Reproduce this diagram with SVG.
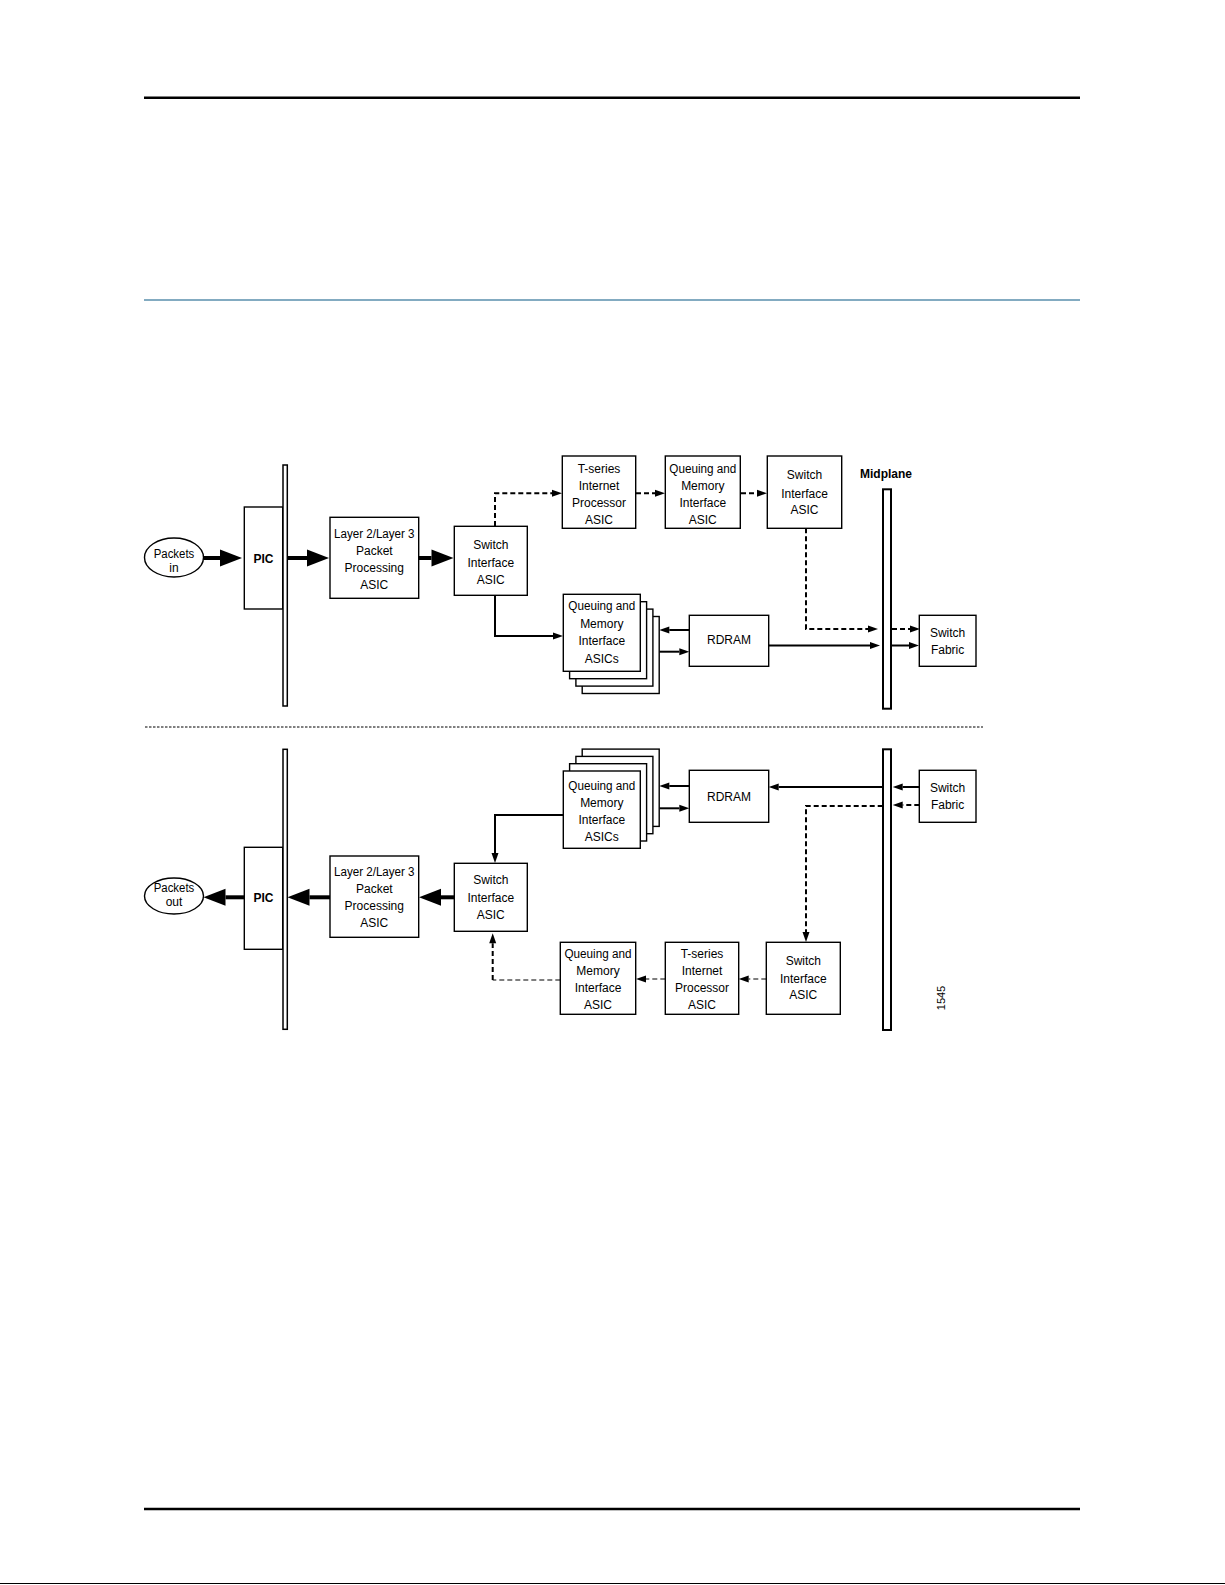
<svg xmlns="http://www.w3.org/2000/svg" width="1225" height="1585" viewBox="0 0 1225 1585">
<style>
text{font-family:"Liberation Sans",Arial,sans-serif;font-size:12px;fill:#000;text-anchor:middle}
.b{font-weight:bold}
.box{fill:#fff;stroke:#000;stroke-width:1.4}
.bar{fill:#fff;stroke:#000;stroke-width:1.5}
.mbar{fill:#fff;stroke:#000;stroke-width:2}
.thick{fill:none;stroke:#000;stroke-width:4}
.solid{fill:none;stroke:#000;stroke-width:2}
.dash{fill:none;stroke:#000;stroke-width:2;stroke-dasharray:5 3}
.tdash{fill:none;stroke:#000;stroke-width:1.2;stroke-dasharray:5 3}
</style>
<defs>
<marker id="big" markerUnits="userSpaceOnUse" markerWidth="22" markerHeight="17" refX="0" refY="8.5" orient="auto" overflow="visible"><path d="M0,0 L22,8.5 L0,17 z" fill="#000"/></marker>
<marker id="sm" markerUnits="userSpaceOnUse" markerWidth="10" markerHeight="7" refX="0" refY="3.5" orient="auto" overflow="visible"><path d="M0,0 L10,3.5 L0,7 z" fill="#000"/></marker>
</defs>
<rect width="1225" height="1585" fill="#fff"/>
<g id="page">
<line x1="144" y1="97.7" x2="1080" y2="97.7" stroke="#000" stroke-width="2.5"/>
<line x1="144" y1="300" x2="1080" y2="300" stroke="#5a8fad" stroke-width="1.3"/>
<line x1="144" y1="1509" x2="1080" y2="1509" stroke="#000" stroke-width="2.5"/>
<line x1="0" y1="1583.5" x2="1225" y2="1583.5" stroke="#000" stroke-width="1"/>
<line x1="145" y1="727" x2="983" y2="727" stroke="#000" stroke-width="1" stroke-dasharray="2.5 1.5"/>
</g>
<g id="connectors">
<line class="thick" x1="203.5" y1="558" x2="220" y2="558" marker-end="url(#big)"/>
<line class="thick" x1="287.5" y1="558" x2="307" y2="558" marker-end="url(#big)"/>
<line class="thick" x1="419" y1="558" x2="431.5" y2="558" marker-end="url(#big)"/>
<path class="dash" d="M495,526 V493.3 H552" marker-end="url(#sm)"/>
<line class="dash" x1="636" y1="493.3" x2="655" y2="493.3" marker-end="url(#sm)"/>
<line class="dash" x1="741" y1="493.3" x2="757" y2="493.3" marker-end="url(#sm)"/>
<path class="dash" d="M806,528.3 V629 H868" marker-end="url(#sm)"/>
<line class="dash" x1="892" y1="629" x2="910" y2="629" marker-end="url(#sm)"/>
<path class="solid" d="M495,595.3 V636 H553" marker-end="url(#sm)"/>
<line class="solid" x1="689.3" y1="630" x2="669.3" y2="630" marker-end="url(#sm)"/>
<line class="solid" x1="659.3" y1="651.7" x2="679.3" y2="651.7" marker-end="url(#sm)"/>
<line class="solid" x1="768.7" y1="645.5" x2="870" y2="645.5" marker-end="url(#sm)"/>
<line class="solid" x1="892" y1="645.5" x2="909" y2="645.5" marker-end="url(#sm)"/>
<line class="thick" x1="244.3" y1="897.3" x2="225.5" y2="897.3" marker-end="url(#big)"/>
<line class="thick" x1="330" y1="897.3" x2="309.5" y2="897.3" marker-end="url(#big)"/>
<line class="thick" x1="454.3" y1="897.3" x2="441" y2="897.3" marker-end="url(#big)"/>
<path class="solid" d="M563.3,815 H495 V853" marker-end="url(#sm)"/>
<line class="solid" x1="689.3" y1="786" x2="669.3" y2="786" marker-end="url(#sm)"/>
<line class="solid" x1="659.3" y1="808.3" x2="679.3" y2="808.3" marker-end="url(#sm)"/>
<line class="solid" x1="882.7" y1="787" x2="778.7" y2="787" marker-end="url(#sm)"/>
<line class="solid" x1="919.3" y1="787" x2="902.7" y2="787" marker-end="url(#sm)"/>
<line class="dash" x1="919.3" y1="805" x2="902.7" y2="805" marker-end="url(#sm)"/>
<path class="dash" d="M882.7,806 H806 V932" marker-end="url(#sm)"/>
<line class="tdash" x1="766.3" y1="979" x2="748.7" y2="979" marker-end="url(#sm)"/>
<line class="tdash" x1="665.3" y1="979" x2="646" y2="979" marker-end="url(#sm)"/>
<path class="tdash" d="M560.3,980 H492.7"/>
<path class="dash" d="M492.7,980 V943.3" marker-end="url(#sm)"/>
</g>
<g id="packets-in"><ellipse class="box" cx="174" cy="557.5" rx="29.5" ry="19.5"/><text x="174" y="558" textLength="40.5" lengthAdjust="spacingAndGlyphs">Packets</text><text x="174" y="572">in</text></g>
<g id="pic-in"><rect class="box" x="244.3" y="507" width="38.4" height="102"/><text class="b" x="263.5" y="562.5">PIC</text></g>
<g id="bar-in"><rect class="bar" x="283" y="465" width="4.3" height="241"/></g>
<g id="l23-in"><rect class="box" x="330" y="517.3" width="88.7" height="81"/><text x="374.3" y="537.5" textLength="80.5" lengthAdjust="spacingAndGlyphs">Layer 2/Layer 3</text><text x="374.3" y="554.5">Packet</text><text x="374.3" y="571.7">Processing</text><text x="374.3" y="589">ASIC</text></g>
<g id="sw-in"><rect class="box" x="454.3" y="526.3" width="73" height="69"/><text x="490.8" y="549.3">Switch</text><text x="490.8" y="566.5">Interface</text><text x="490.8" y="583.5">ASIC</text></g>
<g id="tseries-in"><rect class="box" x="562.3" y="456" width="73.4" height="72.3"/><text x="599" y="472.5">T-series</text><text x="599" y="490">Internet</text><text x="599" y="507.3">Processor</text><text x="599" y="524.3">ASIC</text></g>
<g id="qmi-in"><rect class="box" x="665.3" y="456" width="75" height="72.3"/><text x="702.8" y="472.5" textLength="67" lengthAdjust="spacingAndGlyphs">Queuing and</text><text x="702.8" y="490">Memory</text><text x="702.8" y="507.3">Interface</text><text x="702.8" y="524.3">ASIC</text></g>
<g id="sw2-in"><rect class="box" x="767.3" y="456" width="74.4" height="72.3"/><text x="804.5" y="479.3">Switch</text><text x="804.5" y="497.5">Interface</text><text x="804.5" y="514.3">ASIC</text></g>
<g id="midplane-label"><text class="b" x="886" y="478">Midplane</text></g>
<g id="midplane-top"><rect class="mbar" x="883" y="489.3" width="8" height="219.4"/></g>
<g id="qmis-in">
<rect class="box" x="582.2" y="616.5" width="77" height="77"/>
<rect class="box" x="575.9" y="609.1" width="77" height="77"/>
<rect class="box" x="569.6" y="601.7" width="77" height="77"/>
<rect class="box" x="563.3" y="594.3" width="77" height="77"/>
<text x="601.8" y="610" textLength="67" lengthAdjust="spacingAndGlyphs">Queuing and</text><text x="601.8" y="627.5">Memory</text><text x="601.8" y="645">Interface</text><text x="601.8" y="662.5">ASICs</text></g>
<g id="rdram-in"><rect class="box" x="689.3" y="615.3" width="79.4" height="51"/><text x="729" y="644.3">RDRAM</text></g>
<g id="fabric-in"><rect class="box" x="919.3" y="615.3" width="56.7" height="51"/><text x="947.6" y="637">Switch</text><text x="947.6" y="654.3">Fabric</text></g>
<g id="packets-out"><ellipse class="box" cx="174" cy="896" rx="29.5" ry="18"/><text x="174" y="892" textLength="40.5" lengthAdjust="spacingAndGlyphs">Packets</text><text x="174" y="905.5">out</text></g>
<g id="pic-out"><rect class="box" x="244.3" y="847.3" width="38.4" height="102"/><text class="b" x="263.5" y="901.5">PIC</text></g>
<g id="bar-out"><rect class="bar" x="283" y="749.3" width="4.3" height="280"/></g>
<g id="l23-out"><rect class="box" x="330" y="856" width="88.7" height="81.3"/><text x="374.3" y="876" textLength="80.5" lengthAdjust="spacingAndGlyphs">Layer 2/Layer 3</text><text x="374.3" y="893.3">Packet</text><text x="374.3" y="910.3">Processing</text><text x="374.3" y="927">ASIC</text></g>
<g id="sw-out"><rect class="box" x="454.3" y="863.3" width="73" height="68"/><text x="490.8" y="884.3">Switch</text><text x="490.8" y="901.5">Interface</text><text x="490.8" y="919.3">ASIC</text></g>
<g id="qmis-out">
<rect class="box" x="582.2" y="749.1" width="77" height="77.3"/>
<rect class="box" x="575.9" y="756.4" width="77" height="77.3"/>
<rect class="box" x="569.6" y="763.7" width="77" height="77.3"/>
<rect class="box" x="563.3" y="771" width="77" height="77.3"/>
<text x="601.8" y="790" textLength="67" lengthAdjust="spacingAndGlyphs">Queuing and</text><text x="601.8" y="807">Memory</text><text x="601.8" y="823.5">Interface</text><text x="601.8" y="841">ASICs</text></g>
<g id="rdram-out"><rect class="box" x="689.3" y="770.3" width="79.4" height="52"/><text x="729" y="801">RDRAM</text></g>
<g id="midplane-bottom"><rect class="mbar" x="883" y="749.3" width="8" height="280.7"/></g>
<g id="fabric-out"><rect class="box" x="919.3" y="770.3" width="56.7" height="52"/><text x="947.6" y="791.5">Switch</text><text x="947.6" y="808.5">Fabric</text></g>
<g id="sw2-out"><rect class="box" x="766.3" y="942.3" width="74" height="72"/><text x="803.3" y="965">Switch</text><text x="803.3" y="982.5">Interface</text><text x="803.3" y="999.3">ASIC</text></g>
<g id="tseries-out"><rect class="box" x="665.3" y="942.3" width="73.4" height="72"/><text x="702" y="957.5">T-series</text><text x="702" y="975">Internet</text><text x="702" y="992">Processor</text><text x="702" y="1009.3">ASIC</text></g>
<g id="qmi-out"><rect class="box" x="560.3" y="942.3" width="75.4" height="72"/><text x="598" y="957.5" textLength="67" lengthAdjust="spacingAndGlyphs">Queuing and</text><text x="598" y="975">Memory</text><text x="598" y="992">Interface</text><text x="598" y="1009.3">ASIC</text></g>
<g id="figure-number"><text x="0" y="0" style="font-size:11px" transform="translate(944.5,998) rotate(-90)">1545</text></g>
</svg>
